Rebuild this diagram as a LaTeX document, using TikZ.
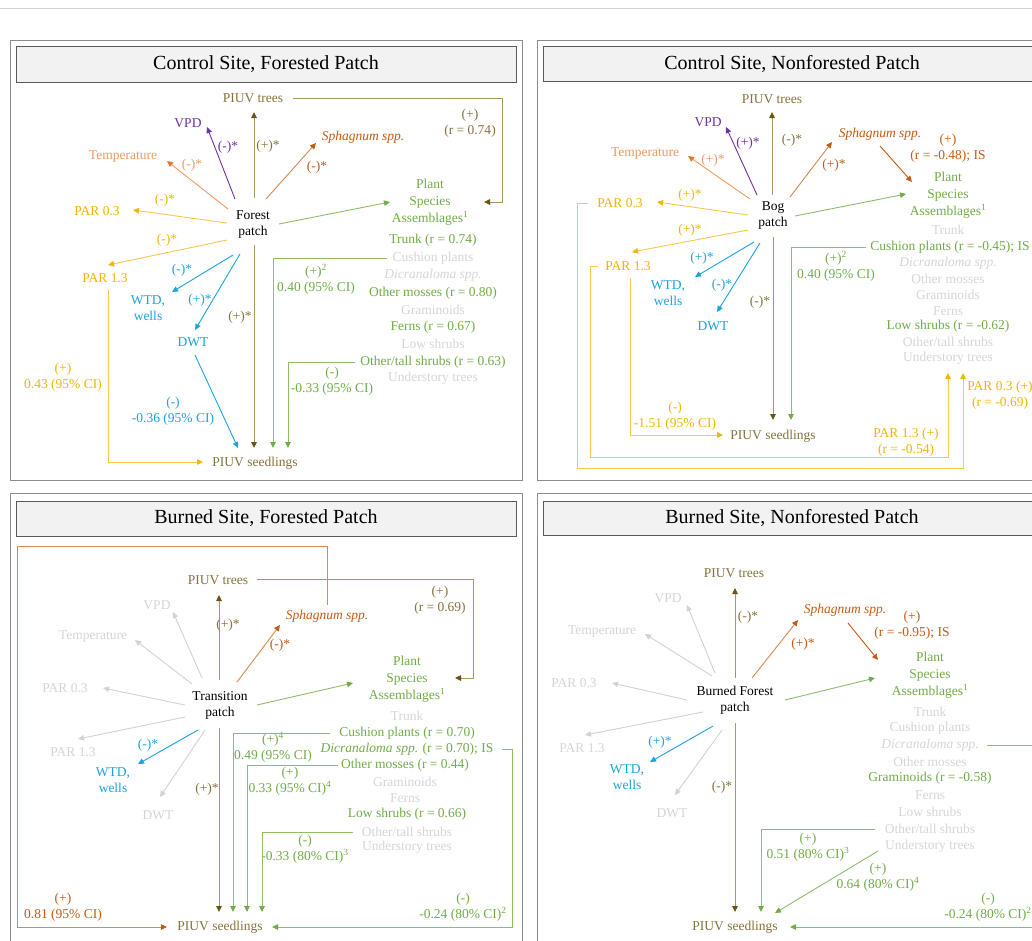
\documentclass[tikz,border=0pt]{standalone}
\usepackage{fontspec}
\setmainfont{Liberation Serif}
\usetikzlibrary{arrows.meta}
\definecolor{olv}{HTML}{86723A}
\definecolor{olvl}{HTML}{A99664}
\definecolor{olvd}{HTML}{6B5310}
\definecolor{prp}{HTML}{7030A0}
\definecolor{tmpc}{HTML}{EE9A60}
\definecolor{tmpd}{HTML}{E0782E}
\definecolor{sph}{HTML}{C55A11}
\definecolor{sphl}{HTML}{D88850}
\definecolor{gld}{HTML}{F2B600}
\definecolor{gldl}{HTML}{F7C948}
\definecolor{blu}{HTML}{1CA3DE}
\definecolor{grn}{HTML}{70AD47}
\definecolor{grnl}{HTML}{8CBF6A}
\definecolor{gry}{HTML}{D6D6D6}
\definecolor{gryl}{HTML}{D2D2D2}
\definecolor{pnl}{HTML}{8C8C8C}
\definecolor{ttlb}{HTML}{595959}
\definecolor{ttlf}{HTML}{F2F2F2}
\begin{document}
\begin{tikzpicture}[x=1pt,y=-1pt,
  tx/.style={font=\fontsize{13.5}{16}\selectfont, inner sep=0pt, align=center},
  psa/.style={font=\fontsize{13.5}{17.2}\selectfont, inner sep=0pt, align=center, text=grn},
  ttl/.style={font=\fontsize{20}{24}\selectfont, inner sep=0pt, draw=ttlb, fill=ttlf, line width=0.8pt},
  panel/.style={draw=pnl, line width=0.9pt},
  ar/.style 2 args={draw=#1, line width=0.9pt, -{Triangle[length=6pt,width=5.5pt,color=#2]}}
]
\clip (0,0) rectangle (1032,940);
\fill[white] (0,0) rectangle (1032,940);
\draw[gryl, line width=0.8pt] (0,8) -- (1032,8);

%================ PANEL 1 =================
\draw[panel] (10,40) rectangle (522,480);
\node[ttl, minimum width=500pt, minimum height=36pt] (T1) at (266,64) {Control Site, Forested Patch};
\node[tx] (P1) at (253,225) {Forest\\patch};
\node[tx,text=olv] (TR1) at (253,98) {PIUV trees};
\node[tx,text=prp] (VPD1) at (188,123) {VPD};
\node[tx,text=tmpc] (TM1) at (123,157) {Temperature};
\node[tx,text=sph] (SP1) at (363,137) {\textit{Sphagnum spp.}};
\node[tx,text=gld] (PA1) at (97,211) {PAR 0.3};
\node[tx,text=gld] (PB1) at (105,278) {PAR 1.3};
\node[tx,text=blu] (W1) at (148,308) {WTD,\\wells};
\node[tx,text=blu] (D1) at (193,342) {DWT};
\node[psa] (PS1) at (430,202) {Plant\\Species\\Assemblages\textsuperscript{1}};
\node[tx,text=grn] (L1a) at (433,240) {Trunk (r = 0.74)};
\node[tx,text=gry] (L1b) at (433,258) {Cushion plants};
\node[tx,text=gry] (L1c) at (433,275) {\textit{Dicranaloma spp.}};
\node[tx,text=grn] (L1d) at (433,293) {Other mosses (r = 0.80)};
\node[tx,text=gry] (L1e) at (433,310) {Graminoids};
\node[tx,text=grn] (L1f) at (433,327) {Ferns (r = 0.67)};
\node[tx,text=gry] (L1g) at (433,344) {Low shrubs};
\node[tx,text=grn] (L1h) at (433,362) {Other/tall shrubs (r = 0.63)};
\node[tx,text=gry] (L1i) at (433,378) {Understory trees};
\node[tx,text=olv] (S1) at (255,463) {PIUV seedlings};
% labels
\node[tx,text=olv] (n1a) at (470,123) {(+)\\(r = 0.74)};
\node[tx,text=olv] (n1b) at (268,146) {(+)*};
\node[tx,text=prp] (n1c) at (228,147) {(-)*};
\node[tx,text=tmpc] (n1d) at (192,165) {(-)*};
\node[tx,text=sph] (n1e) at (317,167) {(-)*};
\node[tx,text=gld] (n1f) at (165,200) {(-)*};
\node[tx,text=gld] (n1g) at (167,240) {(-)*};
\node[tx,text=blu] (n1h) at (182,270) {(-)*};
\node[tx,text=blu] (n1i) at (200,300) {(+)*};
\node[tx,text=olv] (n1j) at (240,317) {(+)*};
\node[tx,text=grn] (n1k) at (316,279) {(+)\textsuperscript{2}\\0.40 (95\% CI)};
\node[tx,text=gld] (n1l) at (63,377) {(+)\\0.43 (95\% CI)};
\node[tx,text=blu] (n1m) at (173,411) {(-)\\-0.36 (95\% CI)};
\node[tx,text=grn] (n1n) at (332,381) {(-)\\-0.33 (95\% CI)};
% connectors
\draw[ar={olvl}{olvd}] (293,98) -- (502,98) -- (502,202) -- (484,202);
\draw[ar={olvl}{olvd}] (254,198) -- (254,112);
\draw[ar={prp}{prp}] (235,199) -- (207,127);
\draw[ar={tmpc}{tmpd}] (228,209) -- (167,161);
\draw[ar={sphl}{sph}] (266,199) -- (316,143);
\draw[ar={gldl}{gld}] (227,223) -- (133,210);
\draw[ar={gldl}{gld}] (227,240) -- (108,265);
\draw[ar={blu}{blu}] (233,255) -- (172,292);
\draw[ar={blu}{blu}] (240,254) -- (195,330);
\draw[ar={grnl}{grn}] (279,224) -- (390,202);
\draw[ar={olvl}{olvd}] (254,245) -- (254,448);
\draw[ar={blu}{blu}] (195,355) -- (238,448);
\draw[ar={gldl}{gld}] (108,290) -- (108,462) -- (203,462);
\draw[ar={grnl}{grn}] (387,258) -- (273,258) -- (273,448);
\draw[ar={grnl}{grn}] (355,362) -- (288,362) -- (288,448);

%================ PANEL 2 =================
\draw[panel] (537,40) rectangle (1047,480);
\node[ttl, minimum width=498pt, minimum height=35pt] (T2) at (792,63.5) {Control Site, Nonforested Patch};
\node[tx] (P2) at (773,216) {Bog\\patch};
\node[tx,text=olv] (TR2) at (772,99) {PIUV trees};
\node[tx,text=prp] (VPD2) at (708,122) {VPD};
\node[tx,text=tmpc] (TM2) at (645,154) {Temperature};
\node[tx,text=sph] (SP2) at (880,134) {\textit{Sphagnum spp.}};
\node[tx,text=gld] (PA2) at (620,203) {PAR 0.3};
\node[tx,text=gld] (PB2) at (628,266) {PAR 1.3};
\node[tx,text=blu] (W2) at (668,293) {WTD,\\wells};
\node[tx,text=blu] (D2) at (713,326) {DWT};
\node[psa] (PS2) at (948,195) {Plant\\Species\\Assemblages\textsuperscript{1}};
\node[tx,text=gry] (L2a) at (948,230) {Trunk};
\node[tx,text=grn] (L2b) at (950,247) {Cushion plants (r = -0.45); IS};
\node[tx,text=gry] (L2c) at (948,263) {\textit{Dicranaloma spp.}};
\node[tx,text=gry] (L2d) at (948,279) {Other mosses};
\node[tx,text=gry] (L2e) at (948,295) {Graminoids};
\node[tx,text=gry] (L2f) at (948,311) {Ferns};
\node[tx,text=grn] (L2g) at (948,326) {Low shrubs (r = -0.62)};
\node[tx,text=gry] (L2h) at (948,342) {Other/tall shrubs};
\node[tx,text=gry] (L2i) at (948,358) {Understory trees};
\node[tx,text=olv] (S2) at (773,436) {PIUV seedlings};
\node[tx,text=gld] (RA2) at (906,442) {PAR 1.3 (+)\\(r = -0.54)};
\node[tx,text=gld] (RB2) at (1000,395) {PAR 0.3 (+)\\(r = -0.69)};
% labels
\node[tx,text=olv] (n2a) at (792,140) {(-)*};
\node[tx,text=prp] (n2b) at (748,143) {(+)*};
\node[tx,text=tmpc] (n2c) at (713,160) {(+)*};
\node[tx,text=sph] (n2d) at (834,165) {(+)*};
\node[tx,text=sph] (n2e) at (948,148) {(+)\\(r = -0.48); IS};
\node[tx,text=gld] (n2f) at (690,195) {(+)*};
\node[tx,text=gld] (n2g) at (690,230) {(+)*};
\node[tx,text=blu] (n2h) at (702,258) {(+)*};
\node[tx,text=blu] (n2i) at (722,285) {(-)*};
\node[tx,text=olv] (n2j) at (760,302) {(-)*};
\node[tx,text=grn] (n2k) at (836,266) {(+)\textsuperscript{2}\\0.40 (95\% CI)};
\node[tx,text=gld] (n2l) at (675,416) {(-)\\-1.51 (95\% CI)};
% connectors
\draw[ar={olvl}{olvd}] (772,195) -- (772,112);
\draw[ar={prp}{prp}] (757,195) -- (726,127);
\draw[ar={tmpc}{tmpd}] (750,199) -- (688,156);
\draw[ar={sphl}{sph}] (790,197) -- (832,142);
\draw[ar={sph}{sph}] (880,146) -- (912,182);
\draw[ar={grnl}{grn}] (795,216) -- (906,194);
\draw[ar={gldl}{gld}] (748,215) -- (657,202);
\draw[ar={gldl}{gld}] (748,230) -- (632,252);
\draw[ar={blu}{blu}] (754,242) -- (695,277);
\draw[ar={blu}{blu}] (760,243) -- (717,312);
\draw[ar={olvl}{olvd}] (773,237) -- (773,420);
\draw[ar={grnl}{grn}] (866,247) -- (791,247) -- (791,420);
\draw[ar={gldl}{gld}] (630,278) -- (630,435) -- (723,435);
\draw[ar={gldl}{gld}] (598,266) -- (590,266) -- (590,457) -- (948,457) -- (948,373);
\draw[ar={gldl}{gld}] (588,203) -- (577,203) -- (577,468) -- (963,468) -- (963,373);

%================ PANEL 3 =================
\draw[panel] (10,493) rectangle (522,948);
\node[ttl, minimum width=500pt, minimum height=35pt] (T3) at (266,518.5) {Burned Site, Forested Patch};
\node[tx] (P3) at (220,705) {Transition\\patch};
\node[tx,text=olv] (TR3) at (218,580) {PIUV trees};
\node[tx,text=gry] (VPD3) at (157,605) {VPD};
\node[tx,text=gry] (TM3) at (93,637) {Temperature};
\node[tx,text=sph] (SP3) at (327,616) {\textit{Sphagnum spp.}};
\node[tx,text=gry] (PA3) at (65,688) {PAR 0.3};
\node[tx,text=gry] (PB3) at (73,752) {PAR 1.3};
\node[tx,text=blu] (W3) at (113,780) {WTD,\\wells};
\node[tx,text=gry] (D3) at (158,815) {DWT};
\node[psa] (PS3) at (407,679) {Plant\\Species\\Assemblages\textsuperscript{1}};
\node[tx,text=gry] (L3a) at (407,716) {Trunk};
\node[tx,text=grn] (L3b) at (407,733) {Cushion plants (r = 0.70)};
\node[tx,text=grn] (L3c) at (407,749) {\textit{Dicranaloma spp.} (r = 0.70); IS};
\node[tx,text=grn] (L3d) at (405,765) {Other mosses (r = 0.44)};
\node[tx,text=gry] (L3e) at (405,782) {Graminoids};
\node[tx,text=gry] (L3f) at (405,798) {Ferns};
\node[tx,text=grn] (L3g) at (407,814) {Low shrubs (r = 0.66)};
\node[tx,text=gry] (L3h) at (407,832) {Other/tall shrubs};
\node[tx,text=gry] (L3i) at (407,847) {Understory trees};
\node[tx,text=olv] (S3) at (220,927) {PIUV seedlings};
% labels
\node[tx,text=olv] (n3a) at (440,600) {(+)\\(r = 0.69)};
\node[tx,text=olv] (n3b) at (228,625) {(+)*};
\node[tx,text=sph] (n3c) at (280,645) {(-)*};
\node[tx,text=blu] (n3d) at (148,745) {(-)*};
\node[tx,text=olv] (n3e) at (207,789) {(+)*};
\node[tx,text=grn] (n3f) at (273,747) {(+)\textsuperscript{4}\\0.49 (95\% CI)};
\node[tx,text=grn] (n3g) at (290,781) {(+)\\0.33 (95\% CI)\textsuperscript{4}};
\node[tx,text=grn] (n3h) at (305,849) {(-)\\-0.33 (80\% CI)\textsuperscript{3}};
\node[tx,text=sph] (n3i) at (63,907) {(+)\\0.81 (95\% CI)};
\node[tx,text=grn] (n3j) at (463,907) {(-)\\-0.24 (80\% CI)\textsuperscript{2}};
% connectors
\draw[ar={olvl}{olvd}] (257,579) -- (473,579) -- (473,678) -- (455,678);
\draw[ar={olvl}{olvd}] (219,680) -- (219,595);
\draw[ar={gryl}{gryl}] (202,678) -- (173,612);
\draw[ar={gryl}{gryl}] (192,684) -- (135,640);
\draw[ar={sphl}{sph}] (237,682) -- (280,625);
\draw[ar={gryl}{gryl}] (185,705) -- (103,688);
\draw[ar={gryl}{gryl}] (185,717) -- (78,739);
\draw[ar={blu}{blu}] (198,730) -- (138,764);
\draw[ar={gryl}{gryl}] (205,730) -- (160,797);
\draw[ar={olvl}{olvd}] (219,728) -- (219,912);
\draw[ar={grnl}{grn}] (257,705) -- (353,683);
\draw[ar={sphl}{sph}] (327,605) -- (327,546) -- (17,546) -- (17,927) -- (167,927);
\draw[ar={grnl}{grn}] (330,733) -- (233,733) -- (233,912);
\draw[ar={grnl}{grn}] (338,765) -- (247,765) -- (247,912);
\draw[ar={grnl}{grn}] (353,832) -- (262,832) -- (262,912);
\draw[ar={grnl}{grn}] (502,749) -- (512,749) -- (512,927) -- (272,927);

%================ PANEL 4 =================
\draw[panel] (537,493) rectangle (1047,948);
\node[ttl, minimum width=498pt, minimum height=34pt] (T4) at (792,518) {Burned Site, Nonforested Patch};
\node[tx] (P4) at (735,700) {Burned Forest\\patch};
\node[tx,text=olv] (TR4) at (734,573) {PIUV trees};
\node[tx,text=gry] (VPD4) at (668,598) {VPD};
\node[tx,text=gry] (TM4) at (602,632) {Temperature};
\node[tx,text=sph] (SP4) at (845,610) {\textit{Sphagnum spp.}};
\node[tx,text=gry] (PA4) at (574,683) {PAR 0.3};
\node[tx,text=gry] (PB4) at (582,748) {PAR 1.3};
\node[tx,text=blu] (W4) at (627,777) {WTD,\\wells};
\node[tx,text=gry] (D4) at (672,813) {DWT};
\node[psa] (PS4) at (930,675) {Plant\\Species\\Assemblages\textsuperscript{1}};
\node[tx,text=gry] (L4a) at (930,712) {Trunk};
\node[tx,text=gry] (L4b) at (930,728) {Cushion plants};
\node[tx,text=gry] (L4c) at (930,745) {\textit{Dicranaloma spp.}};
\node[tx,text=gry] (L4d) at (930,762) {Other mosses};
\node[tx,text=grn] (L4e) at (930,778) {Graminoids (r = -0.58)};
\node[tx,text=gry] (L4f) at (930,795) {Ferns};
\node[tx,text=gry] (L4g) at (930,812) {Low shrubs};
\node[tx,text=gry] (L4h) at (930,829) {Other/tall shrubs};
\node[tx,text=gry] (L4i) at (930,846) {Understory trees};
\node[tx,text=olv] (S4) at (735,927) {PIUV seedlings};
% labels
\node[tx,text=olv] (n4a) at (748,617) {(-)*};
\node[tx,text=sph] (n4b) at (803,644) {(+)*};
\node[tx,text=sph] (n4c) at (912,625) {(+)\\(r = -0.95); IS};
\node[tx,text=blu] (n4d) at (660,742) {(+)*};
\node[tx,text=olv] (n4e) at (722,787) {(-)*};
\node[tx,text=grn] (n4f) at (808,847) {(+)\\0.51 (80\% CI)\textsuperscript{3}};
\node[tx,text=grn] (n4g) at (878,877) {(+)\\0.64 (80\% CI)\textsuperscript{4}};
\node[tx,text=grn] (n4h) at (988,907) {(-)\\-0.24 (80\% CI)\textsuperscript{2}};
% connectors
\draw[ar={olvl}{olvd}] (735,678) -- (735,588);
\draw[ar={gryl}{gryl}] (715,673) -- (687,605);
\draw[ar={gryl}{gryl}] (712,676) -- (645,634);
\draw[ar={sphl}{sph}] (752,678) -- (798,620);
\draw[ar={sph}{sph}] (848,623) -- (878,660);
\draw[ar={gryl}{gryl}] (687,700) -- (612,683);
\draw[ar={gryl}{gryl}] (703,712) -- (585,735);
\draw[ar={blu}{blu}] (713,726) -- (650,762);
\draw[ar={gryl}{gryl}] (722,730) -- (675,795);
\draw[ar={olvl}{olvd}] (735,723) -- (735,912);
\draw[ar={grnl}{grn}] (785,700) -- (875,678);
\draw[ar={grnl}{grn}] (875,829) -- (761,829) -- (761,912);
\draw[ar={grnl}{grn}] (878,851) -- (775,913);
\draw[ar={grnl}{grn}] (987,745) -- (1045,745) -- (1045,927) -- (790,927);
\end{tikzpicture}
\end{document}
